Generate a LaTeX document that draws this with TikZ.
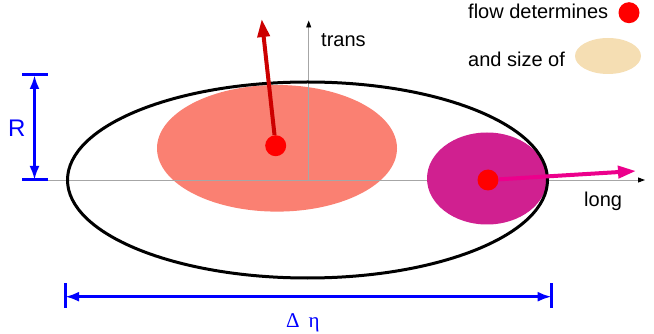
\documentclass[tikz,border=0pt]{standalone}
\usepackage{fontspec}
\setmainfont{Liberation Sans}
\newfontfamily\grk{Liberation Serif}
\usetikzlibrary{arrows.meta,shapes.geometric}
\definecolor{salmon}{RGB}{250,128,114}
\definecolor{violetred}{RGB}{208,32,144}
\definecolor{wheat}{RGB}{245,222,179}
\definecolor{darkred}{RGB}{204,0,0}
\begin{document}
\begin{tikzpicture}[x=1pt, y=-1pt, font=\fontsize{20}{24}\selectfont,
          ax/.style={draw=gray!70, line width=0.9pt, -{Triangle[color=black, length=7pt, width=5pt]}},
          dimln/.style={draw=blue, line width=3pt, {Latex[length=14pt, width=10pt]}-{Latex[length=14pt, width=10pt]}},
          dtk/.style={draw=blue, line width=3pt},
          dot/.style={circle, fill=red, inner sep=0pt, minimum size=21pt},
          vec/.style={line width=4pt, -{Triangle[length=18pt, width=12pt]}},
          lbl/.style={inner sep=0pt, anchor=base west}]
        \useasboundingbox (0,0) rectangle (654,334);
        % blobs under the axes
        \fill[salmon] (277,148.3) ellipse [x radius=120, y radius=63.3];
        \coordinate (o) at (308.7,180);
        \coordinate (tr) at (308.7,20.5);
        \coordinate (lx) at (48,180);
        \coordinate (lg) at (645,180);
        \draw[ax] (o) -- (tr);
        \draw[ax] (lx) -- (lg);
        \fill[violetred] (487,178.5) ellipse [x radius=60, y radius=46];
        \draw[line width=3pt] (307.5,180) ellipse [x radius=240, y radius=98];
        \node[lbl] (tl) at (321,47) {trans};
        \node[lbl] (ll) at (584,207) {long};
        % flow vectors
        \node[dot] (dt) at (275.7,145.7) {};
        \node[dot] (dl) at (488,180) {};
        \coordinate (vt) at (261.7,19);
        \coordinate (vl) at (636,171);
        \draw[vec, darkred] (dt) -- (vt);
        \draw[vec, magenta] (dl) -- (vl);
        % legend
        \node[lbl] (fd) at (468,19) {flow determines};
        \node[dot] (ld) at (629,12.7) {};
        \node[lbl] (sz) at (468,66.5) {and size of};
        \node[ellipse, fill=wheat, inner sep=0pt, minimum width=66pt, minimum height=36pt] (le) at (608,56) {};
        % R
        \foreach \yy in {75,180} {\draw[dtk] (22,\yy) -- (48,\yy);}
        \coordinate (r1) at (34.5,75);
        \coordinate (r2) at (34.5,180);
        \draw[dimln] (r1) -- (r2);
        \node[lbl, text=blue, font=\fontsize{24}{28}\selectfont] (rl) at (8,137) {R};
        % delta eta
        \foreach \xx in {65,551.7} {\draw[dtk] (\xx,283) -- (\xx,308);}
        \coordinate (e1) at (65,296.7);
        \coordinate (e2) at (551.7,296.7);
        \draw[dimln] (e1) -- (e2);
        \node[lbl, text=blue, font=\grk\fontsize{21}{25}\selectfont] (de) at (286,327) {Δ\hspace{9pt}η};
      \end{tikzpicture}
\end{document}
